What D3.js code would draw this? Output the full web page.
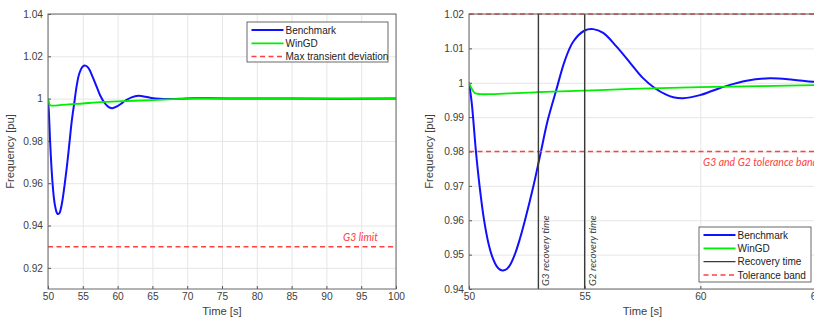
<!DOCTYPE html>
<html><head><meta charset="utf-8">
<script src="https://cdn.jsdelivr.net/npm/d3@7"></script>
<style>
html,body{margin:0;padding:0;background:#fff;overflow:hidden;}
svg{display:block;font-family:"Liberation Sans",Arial,sans-serif;}
</style></head><body>
<svg id="c" width="814" height="324"></svg>
<script>
// ---------- data ----------
const timeBench = [50.0,50.12,50.30,50.46,50.65,50.85,51.0,51.2,51.35,51.48,51.65,51.8,52.0,52.2,52.42,52.78,53.11,53.4,53.76,54.15,54.51,55.0,55.37,55.8,56.38,57.0,57.5,58.04,58.5,58.83,59.26,59.98,60.5,61.14,62.0,63.0,64.0,64.88,66,67.5,69,71,73,76,80,85,100];
const freqBench = [1.0000,0.9940,0.9800,0.9698,0.9601,0.9530,0.9495,0.9466,0.9456,0.9454,0.9459,0.9473,0.9504,0.9546,0.9600,0.9698,0.9800,0.9890,0.9976,1.0066,1.0120,1.0152,1.0156,1.0145,1.0105,1.0055,1.0015,0.9984,0.9966,0.9958,0.9955,0.9964,0.9976,0.9991,1.0006,1.0013,1.0009,1.0003,0.9999,0.9998,0.9999,1.0002,1.0002,1.0001,1.0001,1.0000,1.0000];
const timeWin = [50.0,50.1,50.25,50.5,51,53,55,57,60,65,68,70,75,100];
const freqWin = [1.0000,0.9985,0.9970,0.9967,0.9967,0.9973,0.9977,0.9982,0.9987,0.9993,0.9998,1.0000,1.0000,1.0000];
const leftXTicks = [50,55,60,65,70,75,80,85,90,95,100];
const leftYTicks = [0.92,0.94,0.96,0.98,1.00,1.02,1.04];
const rightXTicks = [50,55,60,65];
const rightYTicks = [0.94,0.95,0.96,0.97,0.98,0.99,1.00,1.01,1.02];
const g3Limit = 0.93;
const toleranceBand = [0.98,1.02];
const recoveryTimes = [53,55];
const recoveryLabels = ["G3 recovery time","G2 recovery time"];
const leftLegend = ["Benchmark","WinGD","Max transient deviation"];
const rightLegend = ["Benchmark","WinGD","Recovery time","Tolerance band"];

const BLUE="#1010ff", GREEN="#00ee00", RED="#ff4040", BLACK="#3a3a3a", TXT="#404040";
const svg = d3.select("#c");
const fmt = v => (Math.abs(v-1)<1e-9 ? "1" : d3.format("")(+v.toFixed(2)));
const TICKFONT = "10.2px";

function panel(o){
  const g = svg.append("g");
  const x = d3.scaleLinear().domain(o.xd).range([o.x0,o.x1]);
  const y = d3.scaleLinear().domain(o.yd).range([o.y1,o.y0]);
  const id = "clip"+o.name;
  svg.append("clipPath").attr("id",id).append("rect")
    .attr("x",o.x0).attr("y",o.y0).attr("width",o.x1-o.x0).attr("height",o.y1-o.y0);
  // grid
  g.append("g").attr("transform",`translate(0,${o.y1})`)
    .call(d3.axisBottom(x).tickValues(o.xt).tickSize(-(o.y1-o.y0)).tickFormat(""))
    .call(s=>{s.select(".domain").remove();s.selectAll("line").attr("stroke","#e6e6e6");});
  g.append("g").attr("transform",`translate(${o.x0},0)`)
    .call(d3.axisLeft(y).tickValues(o.yt).tickSize(-(o.x1-o.x0)).tickFormat(""))
    .call(s=>{s.select(".domain").remove();s.selectAll("line").attr("stroke","#e6e6e6");});
  // tick labels
  const ax = g.append("g").attr("transform",`translate(0,${o.y1})`)
    .call(d3.axisBottom(x).tickValues(o.xt).tickSize(-3).tickPadding(4).tickFormat(d=>d));
  ax.select(".domain").remove();
  ax.selectAll("line").attr("stroke","#555");
  ax.selectAll("text").attr("fill",TXT).style("font-size",TICKFONT).style("font-family","Liberation Sans, Arial, sans-serif");
  const ay = g.append("g").attr("transform",`translate(${o.x0},0)`)
    .call(d3.axisLeft(y).tickValues(o.yt).tickSize(-3).tickPadding(5).tickFormat(fmt));
  ay.select(".domain").remove();
  ay.selectAll("line").attr("stroke","#555");
  ay.selectAll("text").attr("fill",TXT).style("font-size",TICKFONT).style("font-family","Liberation Sans, Arial, sans-serif");
  // axis titles
  g.append("text").attr("x",(o.x0+o.x1)/2).attr("y",315).attr("text-anchor","middle")
    .attr("fill",TXT).style("font-size","11.2px").text("Time [s]");
  g.append("text").attr("transform",`translate(${o.ylx},${(o.y0+o.y1)/2}) rotate(-90)`)
    .attr("text-anchor","middle").attr("fill",TXT).style("font-size","11.2px").text("Frequency [pu]");
  const inner = g.append("g").attr("clip-path",`url(#${id})`);
  return {g,x,y,inner};
}

const line = (x,y) => d3.line().x(d=>x(d[0])).y(d=>y(d[1])).curve(d3.curveCatmullRom.alpha(0.5));
const bench = timeBench.map((t,i)=>[t,freqBench[i]]);
const win = timeWin.map((t,i)=>[t,freqWin[i]]);

// ---------- left panel ----------
const L = panel({name:"L",x0:48,x1:396,y0:14,y1:289,xd:[50,100],yd:[0.91,1.04],xt:leftXTicks,yt:leftYTicks,ylx:14});
L.inner.append("line").attr("x1",L.x(50)).attr("x2",L.x(100)).attr("y1",L.y(g3Limit)).attr("y2",L.y(g3Limit))
  .attr("stroke",RED).attr("stroke-width",1.5).attr("stroke-dasharray","5,3.5");
L.inner.append("path").datum(bench).attr("d",line(L.x,L.y)).attr("fill","none").attr("stroke",BLUE).attr("stroke-width",2);
L.inner.append("path").datum(win).attr("d",line(L.x,L.y)).attr("fill","none").attr("stroke",GREEN).attr("stroke-width",1.8);
L.g.append("text").attr("x",343).attr("y",241).attr("fill",RED).style("font-family","Lato, sans-serif")
  .style("font-style","italic").style("font-size","10.5px").text("G3 limit");
L.g.append("rect").attr("x",48).attr("y",14).attr("width",348).attr("height",275).attr("fill","none").attr("stroke","#666").attr("stroke-width",1);

// ---------- right panel ----------
const R = panel({name:"R",x0:469,x1:816,y0:14,y1:289,xd:[50,65],yd:[0.94,1.02],xt:rightXTicks,yt:rightYTicks,ylx:433});
toleranceBand.forEach(v=>{
  R.g.append("line").attr("x1",R.x(50)).attr("x2",R.x(65)).attr("y1",R.y(v)).attr("y2",R.y(v))
    .attr("stroke",RED).attr("stroke-width",1.5).attr("stroke-dasharray","5,3.5");
});
recoveryTimes.forEach((t,i)=>{
  R.g.append("line").attr("x1",R.x(t)).attr("x2",R.x(t)).attr("y1",R.y(0.94)).attr("y2",R.y(1.02))
    .attr("stroke",BLACK).attr("stroke-width",1.4);
  R.g.append("text").attr("transform",`translate(${R.x(t)+11},286) rotate(-90)`)
    .attr("fill",TXT).style("font-family","Lato, sans-serif").style("font-style","italic").style("font-size","10px")
    .text(recoveryLabels[i]);
});
R.inner.append("path").datum(bench).attr("d",line(R.x,R.y)).attr("fill","none").attr("stroke",BLUE).attr("stroke-width",2);
R.inner.append("path").datum(win).attr("d",line(R.x,R.y)).attr("fill","none").attr("stroke",GREEN).attr("stroke-width",1.8);
R.g.append("text").attr("x",703).attr("y",166).attr("fill",RED).style("font-family","Lato, sans-serif")
  .style("font-style","italic").style("font-size","10.5px").text("G3 and G2 tolerance band");
R.g.append("rect").attr("x",469).attr("y",14).attr("width",347).attr("height",275).attr("fill","none").attr("stroke","#666").attr("stroke-width",1);

// ---------- legends ----------
function legend(x,y,w,h,items,styles){
  const lg = svg.append("g");
  lg.append("rect").attr("x",x).attr("y",y).attr("width",w).attr("height",h).attr("fill","#fff").attr("stroke","#444").attr("stroke-width",0.8);
  items.forEach((name,i)=>{
    const yy = y+8+i*13.3, s = styles[i];
    lg.append("line").attr("x1",x+4.5).attr("x2",x+36.5).attr("y1",yy).attr("y2",yy)
      .attr("stroke",s.c).attr("stroke-width",s.w).attr("stroke-dasharray",s.d||null);
    lg.append("text").attr("x",x+38.5).attr("y",yy+3.6).attr("fill","#222").style("font-size","10px").text(name);
  });
}
legend(247,22,141,40,leftLegend,[{c:BLUE,w:2},{c:GREEN,w:1.8},{c:RED,w:1.5,d:"5,3.5"}]);
legend(699,227,112,55,rightLegend,[{c:BLUE,w:2},{c:GREEN,w:1.8},{c:BLACK,w:1.4},{c:RED,w:1.5,d:"5,3.5"}]);
</script>
</body></html>
